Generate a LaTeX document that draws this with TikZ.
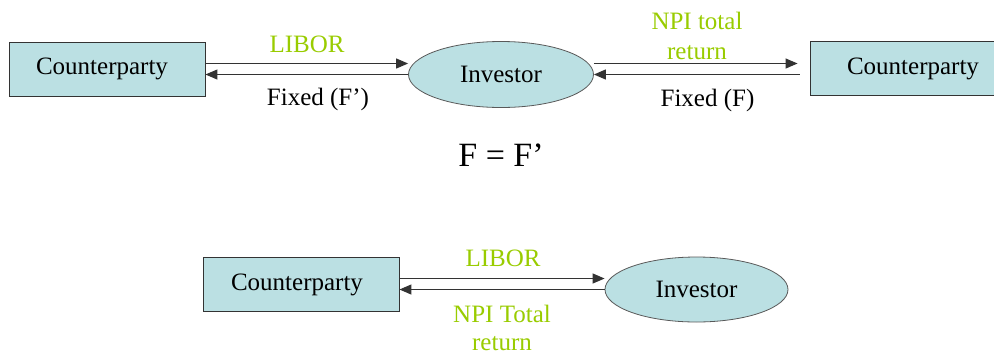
\documentclass[tikz,border=0pt]{standalone}
\usepackage{fontspec}
\setmainfont{Liberation Serif}
\newfontfamily\tmsfont{Liberation Serif}
\usetikzlibrary{shapes.geometric,arrows.meta,calc}
\definecolor{boxfill}{RGB}{187,224,227}
\definecolor{lblgreen}{RGB}{153,204,0}
\begin{document}
\begin{tikzpicture}[x=1pt,y=-1pt,
  party/.style={draw=black!80, line width=0.9pt, fill=boxfill, minimum width=196pt, minimum height=54pt, inner sep=0pt, font=\tmsfont\fontsize{25}{29}\selectfont},
  inv/.style={ellipse, draw=black!65, line width=0.8pt, fill=boxfill, minimum width=185pt, minimum height=66pt, inner sep=0pt, font=\tmsfont\fontsize{25}{29}\selectfont},
  arr/.style={-{Triangle[length=12pt,width=10pt]}, line width=1.2pt, draw=black!80},
  lbl/.style={font=\tmsfont\fontsize{25}{30}\selectfont, align=center, inner sep=0pt},
  glbl/.style={lbl, text=lblgreen}]
\clip (0,0) rectangle (994,354);
\useasboundingbox (0,0) rectangle (994,354);
\fill[white] (0,0) rectangle (994,354);

% top row
\node[party] (cpA) at (107,69) {Counterparty\hspace*{10pt}};
\node[inv] (invA) at (501,74.5) {Investor};
\node[party] (cpB) at (908,68.5) {\hspace*{10pt}Counterparty};

\draw[arr] ($(cpA.east |- invA.west)+(0,-11)$) -- ($(invA.west)+(0,-11)$);
\draw[arr] (invA.west) -- (invA.west -| cpA.east);
\draw[arr, shorten >=12pt] ($(invA.east)+(0,-11)$) -- ($(cpB.west |- invA.east)+(0,-11)$);
\draw[arr, shorten <=10pt] (cpB.west |- invA.east) -- (invA.east);

\node[glbl, anchor=base] (l1) at (307,52) {LIBOR};
\node[lbl, anchor=base] (l2) at (318,105) {Fixed (F’)};
\node[glbl] (l3) at (697,35.5) {NPI total\\return};
\node[lbl, anchor=base] (l4) at (707.5,106) {Fixed (F)};

\node[lbl, font=\tmsfont\fontsize{34}{38}\selectfont, anchor=base] (eq) at (501,166) {F = F’};

% bottom row
\node[party] (cpC) at (301,284.5) {Counterparty\hspace*{8pt}};
\node[inv, minimum width=183pt, minimum height=65pt] (invB) at (696.5,289.5) {Investor};

\draw[arr] ($(cpC.east |- invB.west)+(0,-11)$) -- ($(invB.west)+(0,-11)$);
\draw[arr] (invB.west) -- (invB.west -| cpC.east);

\node[glbl, anchor=base] (l5) at (503,266) {LIBOR};
\node[glbl, font=\tmsfont\fontsize{25}{28}\selectfont] (l6) at (502,327.5) {NPI Total\\return};
\end{tikzpicture}
\end{document}
